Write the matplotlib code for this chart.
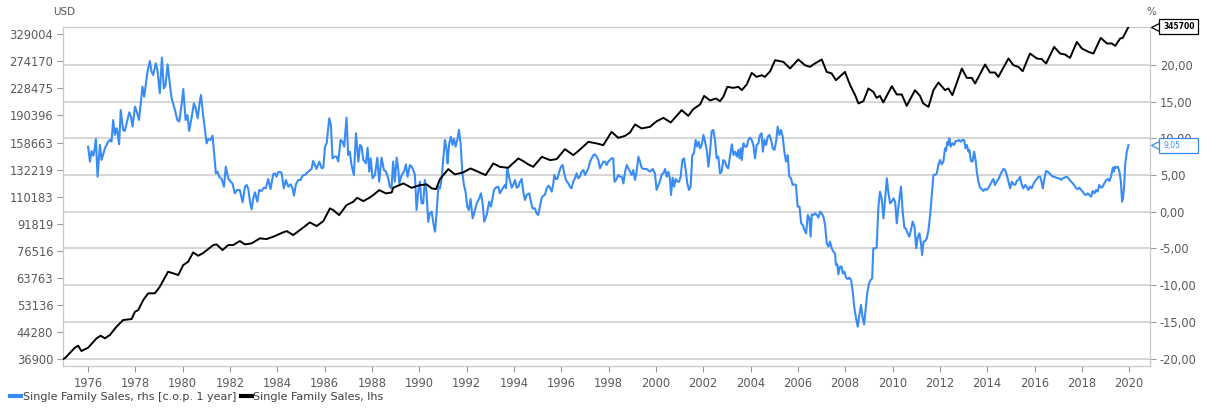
import matplotlib
matplotlib.use("Agg")
import matplotlib.pyplot as plt
from matplotlib.lines import Line2D
from matplotlib.patches import Rectangle
from matplotlib.ticker import FixedLocator, NullLocator
import matplotlib.transforms as mtrans

# Single Family Sales, lhs (USD, log axis)
price_year = [1974.95, 1975.03, 1975.45, 1975.59, 1975.73, 1976.01, 1976.37, 1976.54, 1976.72, 1976.93,
              1977.21, 1977.49, 1977.85, 1977.99, 1978.13, 1978.34, 1978.55, 1978.83, 1979.04, 1979.39,
              1979.61, 1979.82, 1980.03, 1980.24, 1980.45, 1980.66, 1980.87, 1981.30, 1981.44, 1981.69,
              1981.93, 1982.14, 1982.42, 1982.64, 1982.92, 1983.27, 1983.55, 1983.83, 1984.25, 1984.40,
              1984.68, 1984.96, 1985.38, 1985.67, 1985.95, 1986.23, 1986.37, 1986.62, 1986.93, 1987.21,
              1987.38, 1987.64, 1987.85, 1988.06, 1988.31, 1988.60, 1988.84, 1988.90, 1989.33, 1989.68,
              1990.03, 1990.32, 1990.53, 1990.71, 1990.88, 1991.23, 1991.51, 1991.86, 1992.17, 1992.50,
              1992.81, 1993.13, 1993.41, 1993.76, 1994.19, 1994.40, 1994.61, 1994.82, 1995.18, 1995.53,
              1995.81, 1996.16, 1996.51, 1996.72, 1997.15, 1997.50, 1997.78, 1998.13, 1998.41, 1998.70,
              1998.91, 1999.12, 1999.40, 1999.75, 2000.04, 2000.32, 2000.63, 2001.09, 2001.37, 2001.58,
              2001.87, 2002.04, 2002.29, 2002.54, 2002.71, 2002.85, 2003.02, 2003.27, 2003.49, 2003.63,
              2003.84, 2004.05, 2004.26, 2004.47, 2004.61, 2004.83, 2005.04, 2005.39, 2005.67, 2006.02,
              2006.30, 2006.51, 2006.72, 2007.01, 2007.22, 2007.43, 2007.61, 2007.99, 2008.21, 2008.42,
              2008.56, 2008.77, 2008.98, 2009.19, 2009.33, 2009.47, 2009.61, 2009.97, 2010.18, 2010.39,
              2010.60, 2010.95, 2011.16, 2011.30, 2011.52, 2011.73, 2011.94, 2012.22, 2012.36, 2012.53,
              2012.93, 2013.14, 2013.35, 2013.49, 2013.91, 2014.12, 2014.33, 2014.47, 2014.90, 2015.11,
              2015.32, 2015.50, 2015.81, 2016.10, 2016.31, 2016.49, 2016.83, 2017.08, 2017.29, 2017.50,
              2017.79, 2018.00, 2018.28, 2018.49, 2018.80, 2019.06, 2019.27, 2019.41, 2019.62, 2019.73,
              2019.97]
price_usd = [36900, 37100, 39800, 40360, 38940, 39810, 42420, 43170, 42420, 43370,
             45870, 47980, 48310, 50740, 51320, 54900, 57430, 57430, 60040, 66420,
             65710, 64960, 69490, 71050, 75690, 73980, 75330, 79500, 79880, 76870,
             79500, 79500, 81680, 79880, 80420, 83180, 82780, 84080, 86600, 87360,
             85040, 87950, 92630, 90350, 93450, 101790, 100630, 97300, 104070, 106410,
             109310, 106910, 108880, 111320, 115130, 112600, 113360, 116930, 120450, 116930,
             119070, 119640, 116460, 115910, 123980, 132620, 127970, 129710, 133250, 130230,
             127370, 137810, 134690, 133790, 142530, 139960, 136890, 134690, 144080, 140910,
             141860, 151740, 145730, 149710, 159380, 157670, 155880, 170480, 163730, 165950,
             169800, 179190, 174430, 176320, 183220, 187330, 181620, 197300, 189870, 198640,
             205020, 217240, 210610, 213470, 209620, 215790, 230820, 229280, 230820, 225750,
             234560, 253620, 246860, 249710, 246860, 256520, 276250, 273100, 261240, 277550,
             267110, 264080, 270190, 277550, 255310, 252580, 241450, 255310, 233450, 218260,
             206400, 209620, 228330, 223160, 214320, 217240, 207790, 231890, 219290, 219290,
             203090, 225750, 217240, 206400, 201730, 225750, 237750, 225750, 228330, 218260,
             261240, 245220, 245220, 236160, 268370, 254300, 254300, 246860, 279430, 267110,
             264080, 256520, 289000, 279430, 278130, 270190, 302130, 289000, 287080, 280590,
             312520, 298930, 292180, 289000, 321060, 309170, 309170, 304230, 319760, 321060,
             345700]

# Single Family Sales, rhs [c.o.p. 1 year] (%), in pieces by period
yoy_year_a = [1976.01, 1976.09, 1976.16, 1976.23, 1976.27, 1976.34, 1976.41, 1976.51, 1976.58, 1976.72,
              1976.86, 1976.93, 1977.00, 1977.07, 1977.14, 1977.21, 1977.25, 1977.32, 1977.39, 1977.49,
              1977.56, 1977.75, 1977.82, 1977.89, 1977.99, 1978.09, 1978.16, 1978.31, 1978.38, 1978.52,
              1978.62, 1978.69, 1978.76, 1978.87, 1978.94, 1979.04, 1979.13, 1979.21, 1979.28, 1979.37,
              1979.47, 1979.54, 1979.68, 1979.78, 1979.86, 1979.96, 1980.03, 1980.13, 1980.21, 1980.28,
              1980.38, 1980.48, 1980.55, 1980.64, 1980.73, 1980.78, 1980.87, 1981.02, 1981.09, 1981.18,
              1981.27, 1981.41, 1981.48, 1981.55, 1981.65, 1981.75, 1981.83, 1981.93, 1982.03, 1982.11,
              1982.21, 1982.31, 1982.42, 1982.54, 1982.64, 1982.71, 1982.78, 1982.85, 1982.92, 1982.99,
              1983.06, 1983.16, 1983.24, 1983.34, 1983.44, 1983.52, 1983.62, 1983.72, 1983.83, 1983.90,
              1983.97, 1984.04]
yoy_pct_a = [8.86, 6.82, 8.27, 7.64, 8.18, 9.91, 4.77, 9.09, 7.04, 8.63,
             9.54, 9.77, 9.54, 12.49, 10.45, 11.36, 10.90, 9.18, 13.85, 11.13,
             11.0, 13.54, 12.95, 11.59, 14.31, 13.40, 12.49, 17.04, 15.67, 19.08,
             20.53, 19.08, 18.62, 20.21, 19.30, 16.13, 20.99, 16.81, 17.17, 20.08,
             17.26, 15.45, 13.85, 12.49, 12.27, 14.54, 16.72, 12.49, 13.17, 11.0,
             12.72, 14.76, 14.17, 12.72, 14.99, 15.90, 13.17, 9.31, 9.90, 9.77,
             10.36, 5.23, 5.45, 4.77, 4.46, 3.41, 6.14, 4.55, 4.09, 3.87,
             2.5, 2.96, 2.96, 1.28, 3.41, 3.64, 3.09, 1.37, 0.32, 1.82,
             2.64, 1.37, 2.96, 2.82, 3.27, 3.18, 4.46, 3.09, 5.09, 5.23,
             4.77, 5.36]

yoy_year_b = [1984.12, 1984.19, 1984.28, 1984.37, 1984.47, 1984.57, 1984.65, 1984.71, 1984.79, 1984.89,
              1984.99, 1985.07, 1985.17, 1985.31, 1985.45, 1985.52, 1985.59, 1985.66, 1985.78, 1985.88,
              1985.95, 1986.02, 1986.09, 1986.20, 1986.27, 1986.34, 1986.41, 1986.51, 1986.58, 1986.68,
              1986.76, 1986.83, 1986.93, 1987.00, 1987.07, 1987.14, 1987.24, 1987.33, 1987.43, 1987.50,
              1987.57, 1987.64, 1987.75, 1987.82, 1987.89, 1987.95, 1988.03, 1988.13, 1988.23, 1988.31,
              1988.41, 1988.51, 1988.60, 1988.69, 1988.76, 1988.83, 1988.90, 1988.97, 1989.05, 1989.12,
              1989.16, 1989.26, 1989.36, 1989.44, 1989.51, 1989.61, 1989.68, 1989.75, 1989.82, 1989.89,
              1989.96, 1990.03, 1990.10, 1990.17, 1990.24, 1990.31, 1990.38, 1990.45, 1990.53, 1990.60,
              1990.67, 1990.74, 1990.81, 1990.88, 1990.95, 1991.02, 1991.09, 1991.16, 1991.20, 1991.27,
              1991.34, 1991.41, 1991.47, 1991.54, 1991.61, 1991.68, 1991.75, 1991.82, 1991.89, 1991.96,
              1992.03, 1992.10, 1992.17, 1992.26, 1992.36, 1992.43, 1992.54, 1992.61, 1992.68, 1992.75,
              1992.85, 1992.96, 1993.03, 1993.10, 1993.16, 1993.24, 1993.34]
yoy_pct_b = [5.45, 5.23, 3.18, 4.32, 3.41, 3.73, 3.18, 2.18, 3.73, 4.32,
             4.32, 4.91, 5.0, 5.45, 5.82, 6.91, 6.36, 5.82, 6.82, 5.91,
             6.0, 8.86, 9.31, 12.72, 11.81, 7.27, 7.50, 7.50, 6.82, 9.77,
             9.54, 8.86, 12.81, 7.72, 8.18, 6.36, 5.0, 10.68, 6.82, 9.09,
             8.86, 7.04, 6.59, 8.72, 5.45, 7.27, 4.55, 5.0, 7.36, 4.09,
             7.36, 5.68, 5.45, 4.55, 3.41, 3.18, 6.82, 4.09, 7.36, 5.68,
             3.86, 5.0, 5.45, 6.45, 4.77, 6.36, 6.13, 5.68, 5.0, 0.23,
             2.73, 4.09, 1.14, 1.14, 4.32, 2.73, -1.36, -0.22, 0.01, -1.58,
             -2.72, 0.01, 3.41, 3.18, 4.55, 7.27, 9.77, 8.41, 6.59, 9.31,
             10.22, 9.09, 9.90, 8.86, 9.77, 11.13, 9.31, 5.45, 3.64, 2.73,
             0.69, 0.23, 1.73, -0.90, 0.23, 1.14, 1.82, 2.50, 1.14, -1.36,
             -0.45, 1.37, 0.69, 1.82, 2.96, 3.27, 3.41]

yoy_year_c = [1993.41, 1993.53, 1993.62, 1993.67, 1993.72, 1993.81, 1993.91, 1993.98, 1994.05, 1994.12,
              1994.19, 1994.26, 1994.33, 1994.40, 1994.47, 1994.54, 1994.65, 1994.72, 1994.79, 1994.89,
              1994.96, 1995.03, 1995.10, 1995.17, 1995.24, 1995.31, 1995.39, 1995.46, 1995.53, 1995.60,
              1995.67, 1995.71, 1995.78, 1995.84, 1995.92, 1995.99, 1996.06, 1996.13, 1996.20, 1996.30,
              1996.37, 1996.44, 1996.51, 1996.58, 1996.65, 1996.72, 1996.79, 1996.86, 1996.94, 1997.01,
              1997.08, 1997.15, 1997.22, 1997.29, 1997.36, 1997.43, 1997.50, 1997.57, 1997.64, 1997.71,
              1997.78, 1997.85, 1997.92, 1997.99, 1998.06, 1998.13, 1998.20, 1998.25, 1998.32, 1998.41,
              1998.48, 1998.56, 1998.63, 1998.70, 1998.77, 1998.84, 1998.91, 1998.98, 1999.05, 1999.12,
              1999.19, 1999.26, 1999.33, 1999.40, 1999.47, 1999.61, 1999.75, 1999.87, 1999.96, 2000.03,
              2000.11, 2000.18, 2000.25, 2000.32, 2000.39, 2000.46, 2000.53, 2000.60, 2000.64, 2000.71,
              2000.77, 2000.84, 2000.91, 2000.98, 2001.05, 2001.12, 2001.19, 2001.26, 2001.33, 2001.40,
              2001.47, 2001.54, 2001.61, 2001.68, 2001.75, 2001.81, 2001.87, 2001.94, 2002.01, 2002.08,
              2002.15, 2002.22, 2002.29, 2002.36, 2002.43, 2002.50, 2002.57, 2002.64]
yoy_pct_c = [2.50, 3.18, 3.64, 3.18, 6.0, 4.55, 3.27, 3.73, 4.32, 3.27,
             3.41, 4.09, 4.46, 2.73, 1.59, 2.28, 2.50, 1.37, 0.46, 0.46,
             -0.22, -0.45, 0.69, 1.82, 2.18, 2.28, 3.18, 3.55, 3.27, 2.73,
             3.86, 5.0, 4.46, 4.46, 5.45, 6.13, 6.36, 5.23, 4.32, 3.86,
             3.41, 3.18, 4.09, 4.55, 5.23, 4.55, 4.77, 5.45, 5.68, 5.0,
             5.45, 5.91, 6.82, 7.27, 7.72, 7.82, 7.50, 7.04, 5.91, 6.36,
             6.82, 6.82, 6.36, 6.82, 7.04, 7.27, 7.27, 4.09, 4.32, 5.0,
             4.77, 4.77, 3.86, 5.45, 6.36, 5.91, 5.45, 5.0, 5.68, 4.32,
             5.45, 7.50, 6.82, 6.0, 5.82, 5.82, 5.45, 5.82, 5.23, 2.96,
             3.64, 4.18, 5.09, 5.23, 5.82, 4.77, 5.45, 4.32, 2.28, 4.64,
             3.41, 4.46, 4.09, 4.09, 4.77, 7.04, 7.27, 5.68, 3.86, 2.96,
             3.41, 7.72, 7.95, 9.77, 8.86, 9.54, 8.63, 9.09, 10.45, 9.54,
             8.41, 6.13, 8.18, 10.99, 11.13, 9.77, 7.27, 7.50]

yoy_year_d = [2002.71, 2002.78, 2002.85, 2002.92, 2002.99, 2003.06, 2003.13, 2003.21, 2003.28, 2003.35,
              2003.42, 2003.49, 2003.53, 2003.59, 2003.63, 2003.70, 2003.77, 2003.84, 2003.91, 2003.98,
              2004.05, 2004.12, 2004.19, 2004.26, 2004.33, 2004.40, 2004.47, 2004.52, 2004.59, 2004.66,
              2004.73, 2004.80, 2004.87, 2004.94, 2005.01, 2005.08, 2005.15, 2005.22, 2005.29, 2005.36,
              2005.43, 2005.50, 2005.57, 2005.64, 2005.71, 2005.78, 2005.85, 2005.92, 2005.99, 2006.07,
              2006.14, 2006.21, 2006.28, 2006.35, 2006.42, 2006.49, 2006.54, 2006.59, 2006.66, 2006.73,
              2006.80, 2006.87, 2006.94, 2007.01, 2007.08, 2007.15, 2007.22, 2007.29, 2007.36, 2007.43,
              2007.50, 2007.57, 2007.61, 2007.67, 2007.71, 2007.78, 2007.85, 2007.90, 2007.97, 2008.04,
              2008.11, 2008.18, 2008.25, 2008.32, 2008.39, 2008.46, 2008.53, 2008.60, 2008.67, 2008.74,
              2008.80, 2008.87, 2008.94, 2009.01, 2009.08, 2009.14, 2009.19, 2009.26, 2009.33, 2009.40,
              2009.47, 2009.54, 2009.62, 2009.69, 2009.76, 2009.83, 2009.90, 2009.97, 2010.04, 2010.11,
              2010.18, 2010.25, 2010.32, 2010.36, 2010.43, 2010.50, 2010.57, 2010.64, 2010.71, 2010.78,
              2010.85, 2010.93, 2011.00, 2011.07, 2011.14, 2011.21, 2011.25, 2011.31, 2011.38, 2011.45,
              2011.52, 2011.59, 2011.66, 2011.73, 2011.80, 2011.87, 2011.94]
yoy_pct_d = [5.23, 5.45, 7.04, 6.82, 6.13, 5.91, 7.50, 9.18, 7.72, 8.18,
             7.50, 8.41, 7.27, 8.63, 7.04, 9.31, 8.86, 8.86, 9.77, 10.09,
             9.77, 9.09, 7.27, 9.09, 9.31, 10.45, 10.68, 8.18, 9.77, 9.09,
             10.22, 10.45, 9.77, 8.63, 8.41, 9.54, 11.59, 10.45, 11.13, 10.22,
             8.18, 6.82, 7.72, 4.77, 4.55, 3.64, 3.73, 3.64, 0.69, 0.69,
             -1.58, -1.81, -2.49, -2.95, -0.45, -0.90, -3.40, -0.36, -0.45, -0.22,
             -0.45, -0.81, 0.01, -0.22, -0.68, -1.81, -4.31, -4.76, -4.08, -4.99,
             -5.44, -5.67, -7.26, -7.17, -8.53, -7.49, -7.49, -8.40, -8.17, -8.99,
             -9.17, -8.99, -9.30, -10.89, -13.16, -14.53, -15.66, -14.07, -12.71, -14.53,
             -15.34, -13.16, -10.89, -9.76, -9.30, -9.08, -4.99, -4.99, -4.90, 0.46,
             2.73, 1.82, -0.90, 1.82, 4.55, 2.50, 1.14, 1.37, 1.82, 1.37,
             -1.58, 0.69, 2.50, 3.41, 0.01, -2.17, -2.36, -2.95, -3.40, -2.49,
             -1.36, -2.04, -4.99, -3.40, -2.95, -4.54, -5.90, -4.08, -3.99, -3.63,
             -2.49, -0.45, 2.28, 5.0, 5.0, 5.23, 6.36]

yoy_year_e = [2012.01, 2012.08, 2012.15, 2012.22, 2012.26, 2012.32, 2012.36, 2012.40, 2012.46, 2012.53,
              2012.60, 2012.67, 2012.74, 2012.81, 2012.88, 2012.95, 2013.02, 2013.09, 2013.14, 2013.21,
              2013.25, 2013.31, 2013.38, 2013.45, 2013.52, 2013.56, 2013.63, 2013.70, 2013.77, 2013.84,
              2013.91, 2013.98, 2014.05, 2014.12, 2014.19, 2014.26, 2014.33, 2014.40, 2014.48, 2014.55,
              2014.62, 2014.69, 2014.76, 2014.83, 2014.90, 2014.97, 2015.04, 2015.11, 2015.18, 2015.25,
              2015.32, 2015.39, 2015.46, 2015.53, 2015.60, 2015.67, 2015.74, 2015.81, 2015.88, 2015.95,
              2016.02, 2016.10, 2016.17, 2016.24, 2016.31, 2016.35, 2016.42, 2016.49, 2016.56, 2016.63,
              2016.70, 2016.77, 2016.84, 2016.91, 2016.98, 2017.05, 2017.12, 2017.19, 2017.26, 2017.34,
              2017.41, 2017.48, 2017.55, 2017.62, 2017.69, 2017.76, 2017.83, 2017.90, 2017.97, 2018.04,
              2018.11, 2018.18, 2018.25, 2018.32, 2018.39, 2018.46, 2018.53, 2018.60, 2018.67, 2018.74,
              2018.81, 2018.88, 2018.95, 2019.03, 2019.10, 2019.17, 2019.24, 2019.31, 2019.35, 2019.39,
              2019.45, 2019.52, 2019.59, 2019.65, 2019.70, 2019.74, 2019.79, 2019.83, 2019.90, 2019.97]
yoy_pct_e = [7.04, 6.45, 6.82, 8.63, 8.27, 9.54, 9.09, 9.99, 8.86, 9.31,
             9.09, 9.63, 9.63, 9.77, 9.54, 9.77, 9.77, 8.63, 9.09, 8.18,
             8.41, 6.91, 6.82, 8.18, 6.82, 5.45, 4.09, 3.27, 3.09, 2.82,
             3.09, 2.96, 3.27, 3.64, 4.09, 4.46, 3.64, 4.09, 4.46, 5.0,
             5.45, 5.82, 5.68, 5.0, 4.09, 3.18, 4.09, 3.73, 3.64, 4.18,
             4.32, 4.77, 3.64, 3.18, 3.64, 3.41, 2.96, 3.41, 3.18, 3.73,
             4.18, 4.46, 4.77, 4.77, 3.86, 3.18, 4.55, 5.55, 5.45, 5.23,
             5.0, 4.77, 4.77, 4.64, 4.55, 4.55, 4.32, 4.55, 4.64, 4.77,
             4.64, 4.32, 4.09, 3.86, 3.55, 3.18, 3.09, 3.27, 2.96, 2.73,
             2.37, 2.28, 2.50, 2.28, 2.05, 2.82, 2.50, 2.96, 2.73, 3.64,
             3.27, 3.41, 3.86, 4.32, 4.46, 4.18, 4.91, 6.0, 5.45, 6.13,
             6.0, 6.13, 5.45, 4.09, 1.37, 1.82, 3.64, 6.36, 8.18, 9.05]

usd_ticks = [36900, 44280, 53136, 63763, 76516, 91819, 110183, 132219, 158663, 190396, 228475, 274170, 329004]
pct_ticks = [-20, -15, -10, -5, 0, 5, 10, 15, 20]
year_ticks = list(range(1976, 2021, 2))

yoy_year = yoy_year_a + yoy_year_b + yoy_year_c + yoy_year_d + yoy_year_e
yoy_pct = yoy_pct_a + yoy_pct_b + yoy_pct_c + yoy_pct_d + yoy_pct_e

blue = '#3a8cf5'
grid_c = '#cfcfcf'
spine_c = '#c8c8c8'
text_c = '#5a5a5a'

fig = plt.figure(figsize=(12.06, 4.08), dpi=100)
ax = fig.add_axes([63 / 1206, 42 / 408, 1087 / 1206, 339 / 408])

# right axis (%) carries the grid and the blue series
ax.plot(yoy_year, yoy_pct, color=blue, lw=1.5, zorder=3)
ax.set_ylim(-21.02, 25.16)
ax.set_yticks(pct_ticks)
ax.set_yticklabels([f"{v:.2f}".replace('.', ',') for v in pct_ticks])
ax.grid(axis='y', color=grid_c, lw=1.2)
ax.set_xlim(1974.95, 2020.88)
ax.set_xticks(year_ticks)
ax.set_xticklabels([str(y) for y in year_ticks])

# left axis (USD, log) drawn on top
axl = ax.twinx()
axl.plot(price_year, price_usd, color='black', lw=1.4, zorder=3)
axl.set_yscale('log')
axl.set_ylim(35200, 345500)
axl.yaxis.set_major_locator(FixedLocator(usd_ticks))
axl.yaxis.set_minor_locator(NullLocator())
axl.set_yticklabels([str(v) for v in usd_ticks])

# twinx moves the ticks, so set the sides afterwards
ax.yaxis.tick_right()
axl.yaxis.tick_left()

for a in (ax, axl):
    for s in a.spines.values():
        s.set_color(spine_c)
    a.tick_params(direction='out', length=4, color='#9a9a9a', labelcolor=text_c, labelsize=8.3, pad=3)
ax.tick_params(axis='x', labelsize=8.3, pad=4)

fig.text(64 / 1206, 1 - 12 / 408, 'USD', ha='center', va='center', fontsize=7.5, color=text_c)
fig.text(1151 / 1206, 1 - 12 / 408, '%', ha='center', va='center', fontsize=7.5, color=text_c)

# last-value tags on the right, same width box for both
tag_x0, tag_w, tag_h = 1.0083, 0.0359, 15 / 339
for src, val, txt, col in [(axl, price_usd[-1], str(price_usd[-1]), 'black'),
                           (ax, yoy_pct[-1], f"{yoy_pct[-1]:.2f}".replace('.', ','), blue)]:
    y_ax = ax.transAxes.inverted().transform(src.transData.transform((2000, val)))[1]
    axl.plot([1.0055], [y_ax], marker='<', ms=7, mfc='white', mec=col, mew=0.9,
             transform=ax.transAxes, clip_on=False, zorder=5)
    axl.add_patch(Rectangle((tag_x0, y_ax - tag_h / 2), tag_w, tag_h, transform=ax.transAxes,
                            fc='white', ec=col, lw=0.9, clip_on=False, zorder=6))
    axl.text(tag_x0 + 0.004, y_ax, txt, transform=ax.transAxes, ha='left', va='center',
             fontsize=5.5, color=col, fontweight='bold' if col == 'black' else 'normal',
             clip_on=False, zorder=7)

handles = [Line2D([], [], color=blue, lw=3), Line2D([], [], color='black', lw=3)]
fig.legend(handles, ['Single Family Sales, rhs [c.o.p. 1 year]', 'Single Family Sales, lhs'],
           loc='lower left', bbox_to_anchor=(0.0, -0.01), ncol=2, frameon=False,
           fontsize=8, handlelength=1.0, handletextpad=0.15, columnspacing=0.4,
           labelcolor='#404040')

fig.savefig('out.png', dpi=100)
